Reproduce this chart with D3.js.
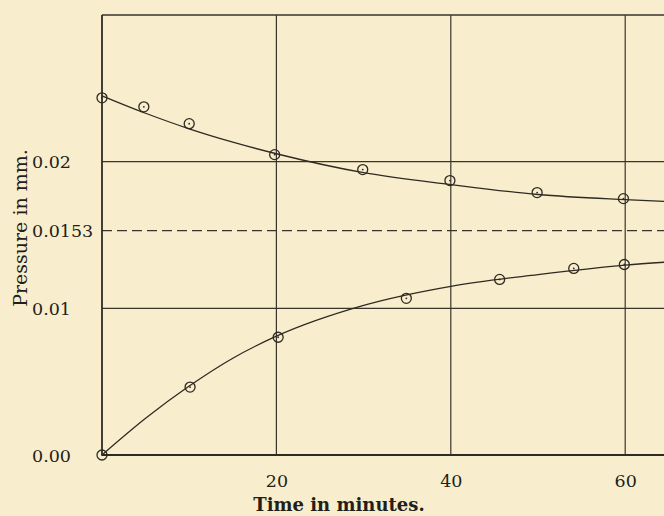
<!DOCTYPE html>
<html>
<head>
<meta charset="utf-8">
<script src="https://cdn.jsdelivr.net/npm/d3@7.9.0/dist/d3.min.js"></script>
<style>
  html, body { margin: 0; padding: 0; background: #f8edcd; }
  svg { display: block; }
  text { font-family: "DejaVu Serif", "Liberation Serif", serif; fill: #221e18; }
</style>
</head>
<body>
<div id="chart"></div>
<script>
// observed points, falling series (approach from above)
const fallTime = [0, 4.8, 10, 19.8, 29.9, 39.9, 49.9, 59.8];
const fallPressure = [0.02435, 0.02374, 0.02259, 0.02048, 0.01946, 0.01871, 0.01789, 0.01748];

// observed points, rising series (approach from below)
const riseTime = [0, 10.1, 20.2, 34.9, 45.6, 54.1, 59.9];
const risePressure = [0, 0.00463, 0.00803, 0.01068, 0.01197, 0.01272, 0.01299];

// smooth curves as drawn in the figure
const curveTime = [0, 5, 10, 15, 20, 30, 40, 50, 60, 66];
const fallCurve = [0.02449, 0.02330, 0.02224, 0.02133, 0.02054, 0.01925, 0.01844, 0.01776, 0.01741, 0.01725];
const riseCurve = [0, 0.0025, 0.0047, 0.0066, 0.0081, 0.0102, 0.0115, 0.0123, 0.01295, 0.0132];

const equilibrium = 0.0153;
const yTicks = [0, 0.01, 0.0153, 0.02];
const xTicks = [20, 40, 60];
const yGrid = [0.01, 0.02, 0.03];
const xGrid = [20, 40, 60];

const W = 664, H = 516;
const plotLeft = 102, plotTop = 15, plotBottom = 455;

const svg = d3.select("#chart").append("svg")
    .attr("width", W)
    .attr("height", H);

const x = d3.scaleLinear().domain([0, 66]).range([plotLeft, plotLeft + 66 * 8.72]);
const y = d3.scaleLinear().domain([0, 0.03]).range([plotBottom, plotTop]);

// grid
svg.append("g").selectAll("line").data(xGrid).join("line")
    .attr("x1", d => x(d)).attr("x2", d => x(d))
    .attr("y1", y(0)).attr("y2", y(0.03))
    .attr("stroke", "#3a352c").attr("stroke-width", 1.2);

svg.append("g").selectAll("line").data(yGrid).join("line")
    .attr("x1", x(0)).attr("x2", W)
    .attr("y1", d => y(d)).attr("y2", d => y(d))
    .attr("stroke", "#3a352c").attr("stroke-width", d => d === 0.03 ? 1.6 : 1.2);

// equilibrium dashed line
svg.append("line")
    .attr("x1", x(0)).attr("x2", W)
    .attr("y1", y(equilibrium)).attr("y2", y(equilibrium))
    .attr("stroke", "#3a352c").attr("stroke-width", 1.3)
    .attr("stroke-dasharray", "10,5");

// frame left + bottom
svg.append("line")
    .attr("x1", x(0)).attr("x2", x(0))
    .attr("y1", y(0)).attr("y2", y(0.03))
    .attr("stroke", "#2f2a22").attr("stroke-width", 1.8);
svg.append("line")
    .attr("x1", x(0)).attr("x2", W)
    .attr("y1", y(0)).attr("y2", y(0))
    .attr("stroke", "#2f2a22").attr("stroke-width", 1.8);

// curves
const line = d3.line()
    .x(d => x(d[0]))
    .y(d => y(d[1]))
    .curve(d3.curveMonotoneX);

svg.append("path")
    .datum(curveTime.map((t, i) => [t, fallCurve[i]]))
    .attr("fill", "none").attr("stroke", "#2f2a22").attr("stroke-width", 1.3)
    .attr("d", line);

svg.append("path")
    .datum(curveTime.map((t, i) => [t, riseCurve[i]]))
    .attr("fill", "none").attr("stroke", "#2f2a22").attr("stroke-width", 1.3)
    .attr("d", line);

// markers
function drawMarkers(times, values) {
    const g = svg.append("g");
    const pts = times.map((t, i) => [t, values[i]]);
    g.selectAll("circle.ring").data(pts).join("circle")
        .attr("class", "ring")
        .attr("cx", d => x(d[0])).attr("cy", d => y(d[1]))
        .attr("r", 5)
        .attr("fill", "none")
        .attr("stroke", "#2f2a22").attr("stroke-width", 1.3);
    g.selectAll("circle.dot").data(pts).join("circle")
        .attr("class", "dot")
        .attr("cx", d => x(d[0])).attr("cy", d => y(d[1]))
        .attr("r", 0.9)
        .attr("fill", "#2f2a22");
}
drawMarkers(fallTime, fallPressure);
drawMarkers(riseTime, risePressure);

// y axis labels
const yAxis = svg.append("g")
    .attr("transform", `translate(${plotLeft},0)`)
    .call(d3.axisLeft(y).tickValues(yTicks).tickSize(0)
        .tickFormat(d => d === 0 ? "0.00" : String(d)));
yAxis.select(".domain").remove();
yAxis.selectAll("text")
    .attr("x", 32 - plotLeft)
    .attr("dy", "0.36em")
    .attr("text-anchor", "start")
    .style("font-size", "17.5px")
    .style("font-family", "'DejaVu Serif', serif")
    .attr("fill", "#221e18");

// x axis labels
const xAxis = svg.append("g")
    .attr("transform", `translate(0,${plotBottom})`)
    .call(d3.axisBottom(x).tickValues(xTicks).tickSize(0));
xAxis.select(".domain").remove();
xAxis.selectAll("text")
    .attr("y", 32)
    .attr("dy", 0)
    .style("font-size", "17.5px")
    .style("font-family", "'DejaVu Serif', serif")
    .attr("fill", "#221e18");

// axis titles
svg.append("text")
    .attr("x", 339)
    .attr("y", 511)
    .attr("text-anchor", "middle")
    .style("font-size", "18px")
    .style("font-weight", "bold")
    .text("Time in minutes.");

svg.append("text")
    .attr("transform", `translate(27,228) rotate(-90)`)
    .attr("text-anchor", "middle")
    .style("font-size", "19px")
    .text("Pressure in mm.");
</script>
</body>
</html>
